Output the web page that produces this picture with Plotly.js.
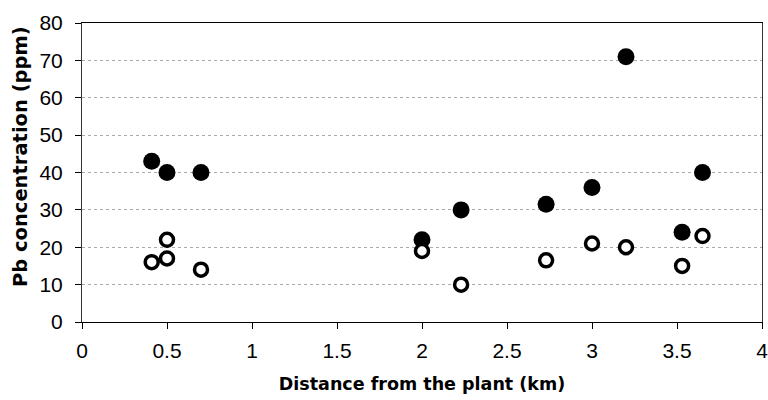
<!DOCTYPE html>
<html>
<head>
<meta charset="utf-8">
<script src="https://cdn.plot.ly/plotly-3.0.1.min.js"></script>
<style>html,body{margin:0;padding:0;background:#fff;}#chart{width:768px;height:400px;}</style>
</head>
<body>
<div id="chart"></div>
<script>
// Filled circles
const filledX = [0.41, 0.50, 0.70, 2.00, 2.23, 2.73, 3.00, 3.20, 3.53, 3.65];
const filledY = [43, 40, 40, 22, 30, 31.5, 36, 71, 24, 40];
// Open circles
const openX = [0.41, 0.50, 0.50, 0.70, 2.00, 2.23, 2.73, 3.00, 3.20, 3.53, 3.65];
const openY = [16, 17, 22, 14, 19, 10, 16.5, 21, 20, 15, 23];
const xTickVals = [0, 0.5, 1, 1.5, 2, 2.5, 3, 3.5, 4];
const xTickText = ['0', '0.5', '1', '1.5', '2', '2.5', '3', '3.5', '4'];
const yTickVals = [0, 10, 20, 30, 40, 50, 60, 70, 80];
const xTitle = 'Distance from the plant (km)';
const yTitle = 'Pb concentration (ppm)';

const font = 'Liberation Sans, Arial, sans-serif';
const titleFont = 'DejaVu Sans, Liberation Sans, sans-serif';
const traces = [
  {x: filledX, y: filledY, type: 'scatter', mode: 'markers', cliponaxis: false,
   marker: {symbol: 'circle', size: 17, color: '#000'}},
  {x: openX, y: openY, type: 'scatter', mode: 'markers', cliponaxis: false,
   marker: {symbol: 'circle', size: 13, color: '#fff', line: {color: '#000', width: 3.5}}}
];
const layout = {
  width: 768, height: 400,
  margin: {l: 82, r: 6, t: 23, b: 78},
  paper_bgcolor: '#fff', plot_bgcolor: '#fff',
  showlegend: false,
  font: {family: font, color: '#000', size: 20},
  xaxis: {
    range: [0, 4], tickmode: 'array', tickvals: xTickVals, ticktext: xTickText,
    ticks: 'outside', ticklen: 6, tickcolor: '#000', tickwidth: 1,
    showline: true, linecolor: '#000', linewidth: 1, mirror: true,
    showgrid: false, zeroline: false,
    tickfont: {family: font, size: 21, color: '#000'},
    ticklabelstandoff: 4, ticklabeloverflow: 'allow',
    title: {text: '<b>' + xTitle + '</b>', font: {family: titleFont, size: 17.5, color: '#000'}, standoff: 16}
  },
  yaxis: {
    range: [0, 80], tickmode: 'array', tickvals: yTickVals,
    ticks: 'outside', ticklen: 6, tickcolor: '#000', tickwidth: 1,
    showline: true, linecolor: '#333', linewidth: 1, mirror: true,
    showgrid: true, gridcolor: '#aaa', gridwidth: 1, griddash: 'dot',
    zeroline: false,
    tickfont: {family: font, size: 21, color: '#000'},
    ticklabelstandoff: 8
  },
  annotations: [{
    text: '<b>' + yTitle + '</b>', textangle: -90, showarrow: false,
    xref: 'paper', yref: 'paper', x: -0.0912, y: 0.555,
    xanchor: 'center', yanchor: 'middle',
    font: {family: titleFont, size: 19.5, color: '#000'}
  }]
};
Plotly.newPlot('chart', traces, layout, {displayModeBar: false, staticPlot: true});
</script>
</body>
</html>
